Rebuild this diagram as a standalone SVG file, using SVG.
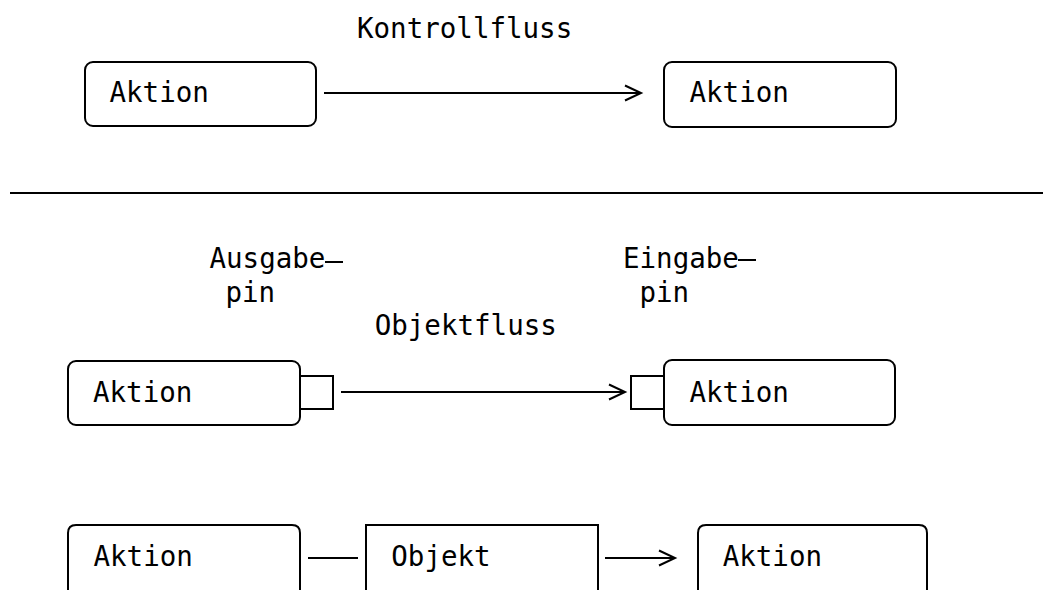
<svg xmlns="http://www.w3.org/2000/svg" width="1043" height="590" viewBox="0 0 1043 590">
  <style>
    .edge { fill: none; stroke: #000; stroke-width: 2; stroke-linecap: butt; }
    .shape { fill: none; stroke: #000; stroke-width: 2; }
    .label { font-family: "DejaVu Sans Mono", "Liberation Mono", monospace; font-size: 27.5px; fill: #000; }
  </style>
  <defs>
    <marker id="arrow" viewBox="0 0 16 16" refX="16" refY="8" markerWidth="16" markerHeight="16" markerUnits="userSpaceOnUse" orient="auto" overflow="visible">
      <path d="M0,0.5 L16,8 L0,15.5" fill="none" stroke="#000" stroke-width="2"/>
    </marker>
  </defs>
  <rect width="1043" height="590" fill="#fff"/>

  <!-- Control flow example -->
  <g id="action-top-left">
    <rect class="shape" x="85" y="62" width="231" height="64" rx="8"/>
    <text class="label" x="109.5" y="102">Aktion</text>
  </g>
  <g id="action-top-right">
    <rect class="shape" x="664" y="62" width="232" height="65" rx="8"/>
    <text class="label" x="689.5" y="102">Aktion</text>
  </g>

  <!-- Separator -->
  <line id="separator" class="shape" x1="10" y1="193" x2="1043" y2="193"/>

  <!-- Object flow via pins -->
  <g id="output-pin-label">
    <text class="label" x="209.5" y="268">Ausgabe</text>
    <line class="shape" x1="325" y1="262" x2="343" y2="262"/>
    <text class="label" x="225.5" y="302">pin</text>
  </g>
  <g id="input-pin-label">
    <text class="label" x="623" y="268">Eingabe</text>
    <line class="shape" x1="738" y1="260" x2="756" y2="260"/>
    <text class="label" x="639.5" y="302">pin</text>
  </g>
  <g id="action-mid-left">
    <rect class="shape" x="68" y="361" width="232" height="64" rx="8"/>
    <text class="label" x="93" y="402">Aktion</text>
  </g>
  <g id="output-pin">
    <rect class="shape" x="300" y="376" width="33" height="33"/>
  </g>
  <g id="input-pin">
    <rect class="shape" x="631" y="376" width="33" height="33"/>
  </g>
  <g id="action-mid-right">
    <rect class="shape" x="664" y="360" width="231" height="65" rx="8"/>
    <text class="label" x="689.5" y="402">Aktion</text>
  </g>

  <!-- Object flow via object node -->
  <g id="action-bottom-left">
    <path class="shape" d="M68,592 V533 Q68,525 76,525 H292 Q300,525 300,533 V592"/>
    <text class="label" x="93.5" y="566">Aktion</text>
  </g>
  <g id="object-node">
    <path class="shape" d="M366,592 V525 H598 V592"/>
    <text class="label" x="391.3" y="566">Objekt</text>
  </g>
  <g id="action-bottom-right">
    <path class="shape" d="M698,592 V533 Q698,525 706,525 H919 Q927,525 927,533 V592"/>
    <text class="label" x="722.7" y="566">Aktion</text>
  </g>

  <!-- Connectors -->
  <g id="connectors">
    <line class="edge" x1="324" y1="93" x2="641" y2="93" marker-end="url(#arrow)"/>
    <text class="label" x="357" y="38">Kontrollfluss</text>
    <line class="edge" x1="341" y1="392" x2="625" y2="392" marker-end="url(#arrow)"/>
    <text class="label" x="374.7" y="335">Objektfluss</text>
    <line class="edge" x1="308" y1="558" x2="358" y2="558"/>
    <line class="edge" x1="605" y1="558" x2="675" y2="558" marker-end="url(#arrow)"/>
  </g>
</svg>
